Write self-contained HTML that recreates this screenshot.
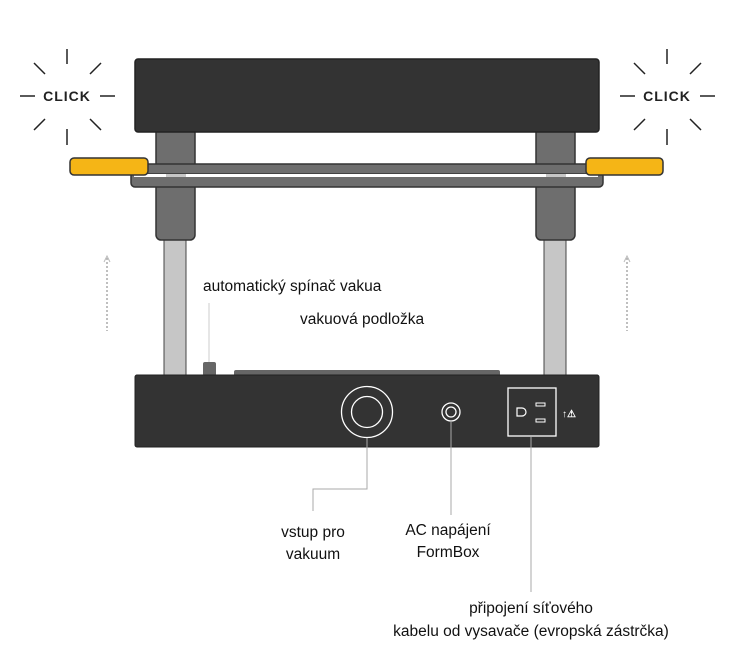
<!DOCTYPE html>
<html><head><meta charset="utf-8"><style>
html,body{margin:0;padding:0;background:#fff;}
svg{display:block;}
text{font-family:"Liberation Sans",sans-serif;}
</style></head><body>
<svg width="748" height="670" viewBox="0 0 748 670" xmlns="http://www.w3.org/2000/svg">
<g stroke="#222" stroke-width="1.5">
<line x1="67" y1="49" x2="67" y2="64"/><line x1="67" y1="129" x2="67" y2="145"/>
<line x1="20" y1="96" x2="35" y2="96"/><line x1="100" y1="96" x2="115" y2="96"/>
<line x1="34" y1="63" x2="45" y2="74"/><line x1="101" y1="63" x2="90" y2="74"/>
<line x1="34" y1="130" x2="45" y2="119"/><line x1="101" y1="130" x2="90" y2="119"/>
<line x1="667" y1="49" x2="667" y2="64"/><line x1="667" y1="129" x2="667" y2="145"/>
<line x1="620" y1="96" x2="635" y2="96"/><line x1="700" y1="96" x2="715" y2="96"/>
<line x1="634" y1="63" x2="645" y2="74"/><line x1="701" y1="63" x2="690" y2="74"/>
<line x1="634" y1="130" x2="645" y2="119"/><line x1="701" y1="130" x2="690" y2="119"/>
</g>
<text x="67" y="101" font-size="14" font-weight="bold" text-anchor="middle" fill="#222" letter-spacing="1">CLICK</text>
<text x="667" y="101" font-size="14" font-weight="bold" text-anchor="middle" fill="#222" letter-spacing="1">CLICK</text>
<rect x="164" y="236" width="22" height="140" fill="#c6c6c6" stroke="#444" stroke-width="1"/>
<rect x="544" y="236" width="22" height="140" fill="#c6c6c6" stroke="#444" stroke-width="1"/>
<rect x="156" y="128" width="39" height="112" rx="5" fill="#6e6e6e" stroke="#333" stroke-width="1.5"/>
<rect x="536" y="128" width="39" height="112" rx="5" fill="#6e6e6e" stroke="#333" stroke-width="1.5"/>
<rect x="135" y="59" width="464" height="73" rx="3" fill="#333" stroke="#222" stroke-width="1.5"/>
<rect x="131" y="172" width="472" height="15" rx="4" fill="#6e6e6e" stroke="#333" stroke-width="1.5"/>
<rect x="145" y="164" width="445" height="10" fill="#6e6e6e" stroke="#333" stroke-width="1.5"/>
<rect x="134" y="174" width="464" height="3" fill="#fff"/>
<rect x="166" y="174" width="20" height="3" fill="#c6c6c6"/>
<rect x="546" y="174" width="20" height="3" fill="#c6c6c6"/>
<rect x="70" y="158" width="78" height="17" rx="4" fill="#f5b516" stroke="#333" stroke-width="1.5"/>
<rect x="586" y="158" width="77" height="17" rx="4" fill="#f5b516" stroke="#333" stroke-width="1.5"/>
<line x1="107" y1="258" x2="107" y2="331" stroke="#aaa" stroke-width="1.5" stroke-dasharray="2 2"/>
<polyline points="104,262 107,256 110,262" fill="none" stroke="#bbb" stroke-width="1"/>
<line x1="627" y1="258" x2="627" y2="331" stroke="#aaa" stroke-width="1.5" stroke-dasharray="2 2"/>
<polyline points="624,262 627,256 630,262" fill="none" stroke="#bbb" stroke-width="1"/>
<line x1="209" y1="303" x2="209" y2="362" stroke="#ccc" stroke-width="1"/>
<rect x="203" y="362" width="13" height="14" rx="2" fill="#666"/>
<rect x="234" y="370" width="266" height="7" rx="2" fill="#666"/>
<rect x="135" y="375" width="464" height="72" rx="2" fill="#333" stroke="#222" stroke-width="1"/>
<circle cx="367" cy="412" r="25.5" fill="none" stroke="#fff" stroke-width="1.3"/>
<circle cx="367" cy="412" r="15.5" fill="none" stroke="#fff" stroke-width="1.3"/>
<circle cx="451" cy="412" r="9" fill="none" stroke="#fff" stroke-width="1.3"/>
<circle cx="451" cy="412" r="5" fill="none" stroke="#fff" stroke-width="1.3"/>
<rect x="508" y="388" width="48" height="48" fill="none" stroke="#fff" stroke-width="1.3"/>
<path d="M517 408 h5 a4 4 0 0 1 0 8 h-5 z" fill="none" stroke="#fff" stroke-width="1.2"/>
<rect x="536" y="403" width="9" height="3" fill="none" stroke="#fff" stroke-width="1"/>
<rect x="536" y="419" width="9" height="3" fill="none" stroke="#fff" stroke-width="1"/>
<text x="562" y="417" font-size="10" fill="#fff" font-weight="bold">↑⚠</text>
<polyline points="367,438 367,489 313,489 313,511" fill="none" stroke="#aaa" stroke-width="1"/>
<line x1="451" y1="421" x2="451" y2="515" stroke="#aaa" stroke-width="1"/>
<line x1="531" y1="437" x2="531" y2="592" stroke="#aaa" stroke-width="1"/>
<g font-size="15.5" fill="#111">
<text x="203" y="291">automatický spínač vakua</text>
<text x="300" y="324">vakuová podložka</text>
<text x="313" y="537" text-anchor="middle">vstup pro</text>
<text x="313" y="559" text-anchor="middle">vakuum</text>
<text x="448" y="535" text-anchor="middle">AC napájení</text>
<text x="448" y="557" text-anchor="middle">FormBox</text>
<text x="531" y="613" text-anchor="middle">připojení síťového</text>
<text x="531" y="636" text-anchor="middle">kabelu od vysavače (evropská zástrčka)</text>
</g>
</svg>
</body></html>
